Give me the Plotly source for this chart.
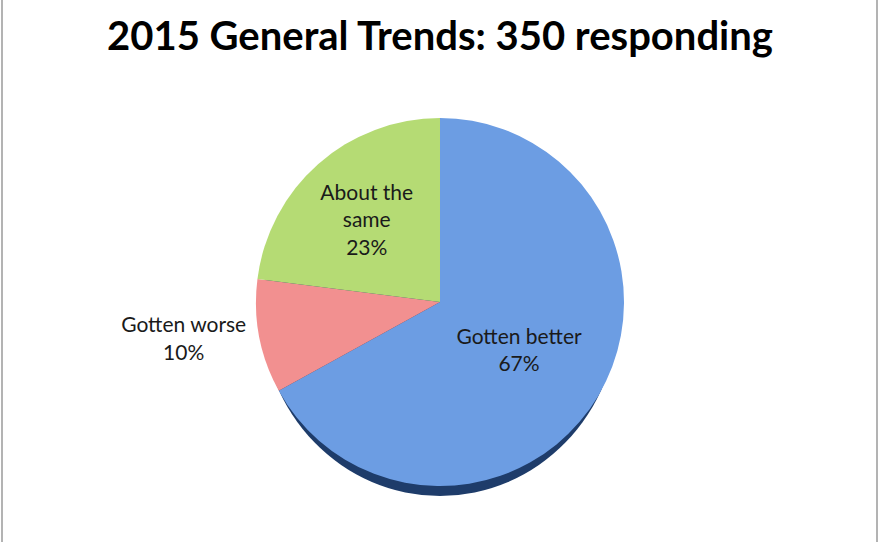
import plotly.graph_objects as go

categories = ["Gotten better", "Gotten worse", "About the same"]
display_labels = ["Gotten better", "Gotten worse", "About the<br>same"]
values = [67, 10, 23]
colors = ["#6C9DE3", "#F29090", "#B5DB74"]
title_text = "2015 General Trends: 350 responding"

W, H = 880, 542
cx, cy, r = 440, 302, 184

fig = go.Figure()
fig.add_trace(go.Pie(
    labels=categories,
    values=values,
    text=display_labels,
    texttemplate="%{text}<br>%{percent:.0%}",
    textposition=["inside", "outside", "inside"],
    insidetextorientation="horizontal",
    sort=False,
    direction="clockwise",
    rotation=0,
    marker=dict(colors=colors, line=dict(width=0)),
    textfont=dict(family="Lato", size=21, color="#1a1a1a"),
    domain=dict(x=[(cx - r) / W, (cx + r) / W], y=[1 - (cy + r) / H, 1 - (cy - r) / H]),
    showlegend=False,
    hoverinfo="label+percent",
))

# shadow under the pie
fig.add_shape(type="circle", xref="paper", yref="paper", layer="below",
              x0=(cx - r + 6) / W, x1=(cx + r - 6) / W,
              y0=1 - (cy + r + 10) / H, y1=1 - (cy - r + 10) / H,
              fillcolor="#1E3C6A", line=dict(width=0))

# side borders
for xp in [2 / W, 877 / W]:
    fig.add_shape(type="line", xref="paper", yref="paper", x0=xp, x1=xp, y0=0, y1=1,
                  line=dict(color="#9a9a9a", width=1.5))

fig.update_layout(
    width=W, height=H,
    margin=dict(l=0, r=0, t=0, b=0),
    paper_bgcolor="white", plot_bgcolor="white",
    title=dict(text="<b>" + title_text + "</b>", x=0.5, xanchor="center",
               yref="container", y=1 - 36 / H, yanchor="middle",
               font=dict(family="Lato", size=40, color="black")),
    uniformtext=dict(minsize=21, mode="show"),
)

fig.write_html("out.html", config={"displayModeBar": False},
               post_script="document.body.style.margin='0';")
